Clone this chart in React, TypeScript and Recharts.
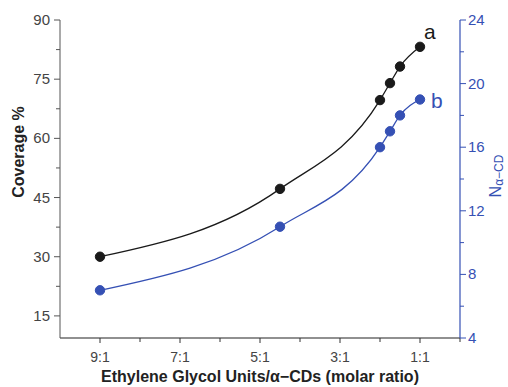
import React from 'react';
import { LineChart, Line, XAxis, YAxis } from 'recharts';

const ratios = [9, 4.5, 2, 1.75, 1.5, 1];
const coverage = [30, 47.2, 69.7, 74, 78.2, 83.2];
const nCD = [7, 11, 16, 17, 18, 19];

const xTicks = [9, 8, 7, 6, 5, 4, 3, 2, 1, 0];
const xLabels = [9, 7, 5, 3, 1];
const leftTicks = [15, 22.5, 30, 37.5, 45, 52.5, 60, 67.5, 75, 82.5, 90];
const leftLabels = [15, 30, 45, 60, 75, 90];
const rightTicks = [4, 6, 8, 10, 12, 14, 16, 18, 20, 22, 24];
const rightLabels = [4, 8, 12, 16, 20, 24];

const data = ratios.map((r, i) => ({ r, cov: coverage[i], n: nCD[i] }));

const BLUE = '#3550b4';
const BLACK = '#1a1a1a';
const FONT = '"Liberation Sans", Arial, sans-serif';

const XTick = (props: any) => {
  const { x, y, payload } = props;
  const major = xLabels.includes(payload.value);
  return (
    <g>
      <line x1={x} x2={x} y1={y} y2={y + (major ? 5 : 4)} stroke="#333" strokeWidth={1} />
      {major && (
        <text x={x} y={y + 24} textAnchor="middle" fontSize={14} fill="#444" fontFamily={FONT}>
          {`${payload.value}:1`}
        </text>
      )}
    </g>
  );
};

const LeftTick = (props: any) => {
  const { x, y, payload } = props;
  const major = leftLabels.includes(payload.value);
  return (
    <g>
      <line x1={x} x2={x - (major ? 6 : 4)} y1={y} y2={y} stroke="#555" strokeWidth={1} />
      {major && (
        <text x={x - 10} y={y + 5} textAnchor="end" fontSize={15} fill="#444" fontFamily={FONT}>
          {payload.value}
        </text>
      )}
    </g>
  );
};

const RightTick = (props: any) => {
  const { x, y, payload } = props;
  const major = rightLabels.includes(payload.value);
  return (
    <g>
      <line x1={x} x2={x + (major ? 6 : 4)} y1={y} y2={y} stroke={BLUE} strokeWidth={1} />
      {major && (
        <text x={x + 8} y={y + 5} textAnchor="start" fontSize={15} fill={BLUE} fontFamily={FONT}>
          {payload.value}
        </text>
      )}
    </g>
  );
};

const lastIdx = ratios.length - 1;

const LabelA = (props: any) => {
  const { x, y, index } = props;
  if (index !== lastIdx) return null;
  return (
    <text x={x + 4} y={y - 8} fontSize={21} fill={BLACK} fontFamily={FONT}>a</text>
  );
};

const LabelB = (props: any) => {
  const { x, y, index } = props;
  if (index !== lastIdx) return null;
  return (
    <text x={x + 11} y={y + 8} fontSize={21} fill={BLUE} fontFamily={FONT}>b</text>
  );
};

export default function App() {
  return (
    <div style={{ position: 'absolute', left: 0, top: 0, background: '#fff' }}>
      <LineChart
        width={508}
        height={387}
        data={data}
        margin={{ top: 20, right: 8, left: 15, bottom: 19 }}
      >
        <XAxis
          dataKey="r"
          type="number"
          domain={[0, 10]}
          reversed
          allowDataOverflow
          ticks={xTicks}
          interval={0}
          tick={<XTick />}
          tickLine={false}
          tickSize={0}
          tickMargin={0}
          height={30}
          stroke="#222"
          axisLine={{ stroke: '#222', strokeWidth: 1.2 }}
        />
        <YAxis
          yAxisId="left"
          orientation="left"
          domain={[9.4, 90]}
          allowDataOverflow
          ticks={leftTicks}
          interval={0}
          tick={<LeftTick />}
          tickLine={false}
          tickSize={0}
          tickMargin={0}
          width={45}
          axisLine={{ stroke: '#555', strokeWidth: 1 }}
        />
        <YAxis
          yAxisId="right"
          orientation="right"
          domain={[4, 24]}
          allowDataOverflow
          ticks={rightTicks}
          interval={0}
          tick={<RightTick />}
          tickLine={false}
          tickSize={0}
          tickMargin={0}
          width={40}
          axisLine={{ stroke: BLUE, strokeWidth: 1.2 }}
        />
        <Line
          yAxisId="left"
          dataKey="cov"
          type="monotone"
          stroke={BLACK}
          strokeWidth={1.3}
          dot={{ r: 4.7, fill: BLACK, stroke: BLACK, strokeWidth: 1 }}
          activeDot={false}
          isAnimationActive={false}
          label={<LabelA />}
        />
        <Line
          yAxisId="right"
          dataKey="n"
          type="monotone"
          stroke={BLUE}
          strokeWidth={1.3}
          dot={{ r: 4.7, fill: BLUE, stroke: BLUE, strokeWidth: 1 }}
          activeDot={false}
          isAnimationActive={false}
          label={<LabelB />}
        />
        <text
          x={18}
          y={152}
          transform="rotate(-90, 18, 152)"
          textAnchor="middle"
          dominantBaseline="central"
          fontSize={16}
          fontWeight="bold"
          fill="#222"
          fontFamily={FONT}
        >
          Coverage %
        </text>
        <text
          x={495}
          y={176}
          transform="rotate(-90, 495, 176)"
          textAnchor="middle"
          dominantBaseline="central"
          fontSize={16}
          fill={BLUE}
          fontFamily={FONT}
        >
          N<tspan fontSize={12} dy={4}>α−CD</tspan>
        </text>
        <text
          x={260}
          y={382}
          textAnchor="middle"
          fontSize={16}
          fontWeight="bold"
          fill="#222"
          fontFamily={FONT}
        >
          Ethylene Glycol Units/α−CDs (molar ratio)
        </text>
      </LineChart>
    </div>
  );
}
